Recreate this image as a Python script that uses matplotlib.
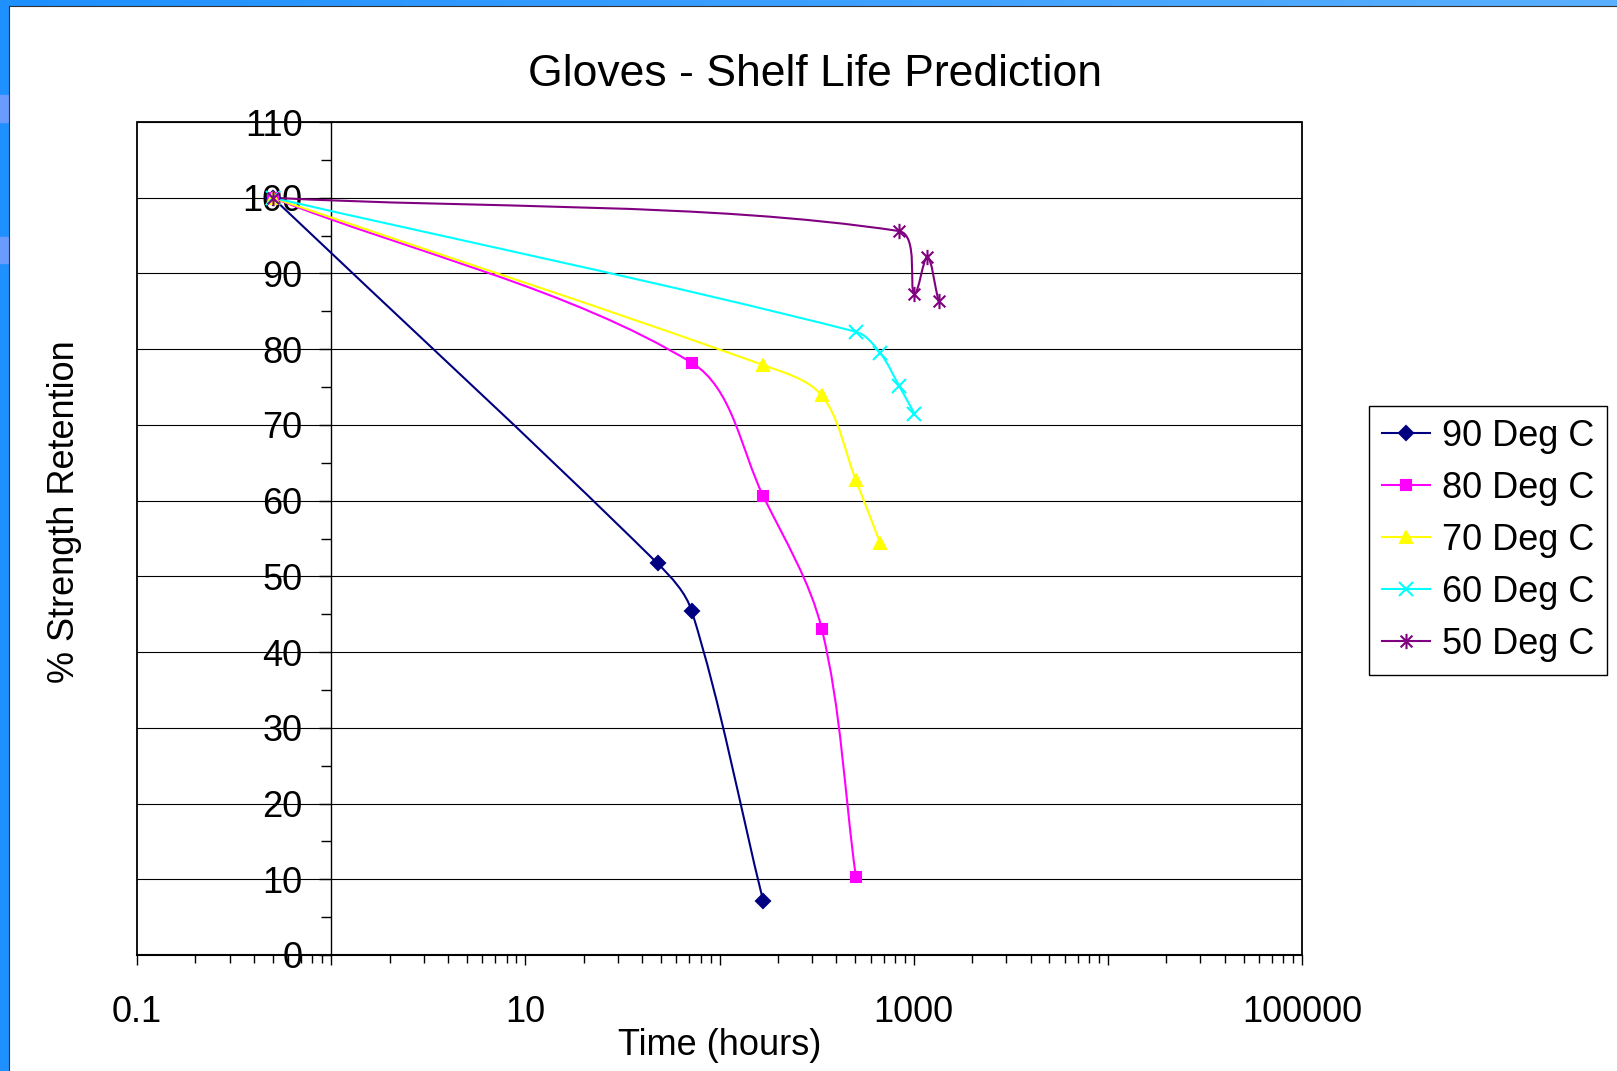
import numpy as np
import matplotlib
matplotlib.use("Agg")
import matplotlib.pyplot as plt
from matplotlib.path import Path
from matplotlib.patches import PathPatch, Rectangle
from matplotlib.lines import Line2D
from matplotlib.colors import LinearSegmentedColormap
from matplotlib.ticker import LogLocator, MultipleLocator, NullFormatter

plt.rcParams["font.family"] = ["Liberation Sans", "DejaVu Sans"]

# Dữ liệu (giờ, % độ bền còn lại)
series_names = ["90 Deg C", "80 Deg C", "70 Deg C", "60 Deg C", "50 Deg C"]
hours_90 = [0.5, 48, 72, 168]
ret_90 = [100, 51.7, 45.4, 7.1]
hours_80 = [0.5, 72, 168, 336, 504]
ret_80 = [100, 78.2, 60.6, 43.1, 10.3]
hours_70 = [0.5, 168, 336, 504, 672]
ret_70 = [100, 77.9, 73.9, 62.7, 54.4]
hours_60 = [0.5, 504, 672, 840, 1008]
ret_60 = [100, 82.3, 79.5, 75.2, 71.5]
hours_50 = [0.5, 840, 1008, 1176, 1344]
ret_50 = [100, 95.6, 87.3, 92.2, 86.3]

x_tick_values = [0.1, 1, 10, 100, 1000, 10000, 100000]
x_tick_labels = ["0.1", "", "10", "", "1000", "", "100000"]
y_tick_values = list(range(0, 111, 10))

colors = ["#000080", "#FF00FF", "#FFFF00", "#00FFFF", "#800080"]

# Marker kiểu "star" của Excel: dấu x cộng một vạch đứng
star = Path([(-1, -1), (1, 1), (-1, 1), (1, -1), (0, -1.3), (0, 1.3)],
            [Path.MOVETO, Path.LINETO] * 3)
markers = ["D", "s", "^", "x", star]
msizes = [7.5, 7.5, 9, 10.5, 11]

W, H = 1617, 1071


def smooth_path(ax, xs, ys):
    """Đường cong Bezier kiểu 'smoothed line' của Excel (tính trong toạ độ màn hình)."""
    pts = ax.transData.transform(np.column_stack([xs, ys]))
    n = len(pts)
    verts = [pts[0]]
    codes = [Path.MOVETO]
    for i in range(n - 1):
        p0 = pts[max(i - 1, 0)]
        p1 = pts[i]
        p2 = pts[i + 1]
        p3 = pts[min(i + 2, n - 1)]
        l01 = np.hypot(*(p1 - p0))
        l12 = np.hypot(*(p2 - p1))
        l23 = np.hypot(*(p3 - p2))
        c1 = p1 + (p2 - p0) * l12 / (l01 + l12) / 3
        c2 = p2 - (p3 - p1) * l12 / (l12 + l23) / 3
        verts += [c1, c2, p2]
        codes += [Path.CURVE4] * 3
    verts = ax.transData.inverted().transform(np.array(verts))
    return Path(verts, codes)


fig = plt.figure(figsize=(W / 100, H / 100), dpi=100)

# Viền xanh của slide
fig.patches.append(Rectangle((0, 0), 8 / W, 1, transform=fig.transFigure,
                             color="#1E90FF", zorder=0))
for y0, y1 in [(95, 122), (237, 263)]:
    fig.patches.append(Rectangle((0, 1 - y1 / H), 8 / W, (y1 - y0) / H,
                                 transform=fig.transFigure, color="#6A9BFF", zorder=0))
top = fig.add_axes([0, 1 - 6 / H, 1, 6 / H])
top.imshow(np.linspace(0, 1, 256)[None, :], aspect="auto",
           cmap=LinearSegmentedColormap.from_list("edge", ["#1E90FF", "#5AB0FF"]))
top.axis("off")
fig.add_artist(Line2D([8.5 / W, 8.5 / W], [0, 1 - 5.5 / H], color="#333333", lw=0.8))
fig.add_artist(Line2D([8.5 / W, 1], [1 - 5.5 / H, 1 - 5.5 / H], color="#333333", lw=0.8))

ax = fig.add_axes([137 / W, 1 - 955 / H, (1302 - 137) / W, (955 - 122) / H])
ax.set_xscale("log")
ax.set_xlim(0.1, 100000)
ax.set_ylim(0, 110)

all_hours = [hours_90, hours_80, hours_70, hours_60, hours_50]
all_ret = [ret_90, ret_80, ret_70, ret_60, ret_50]

handles = []
for hrs, ret, c, m, ms, name in zip(all_hours, all_ret, colors, markers, msizes, series_names):
    ax.add_patch(PathPatch(smooth_path(ax, hrs, ret), fill=False, edgecolor=c,
                           lw=1.5, zorder=3))
    ax.plot(hrs, ret, linestyle="none", marker=m, markersize=ms, color=c,
            markeredgewidth=1.5, zorder=4, clip_on=False)
    handles.append(Line2D([], [], color=c, lw=1.5, marker=m, markersize=ms,
                          markeredgewidth=1.5, label=name))

# Khung vùng vẽ + trục y đặt tại x = 1
ax.add_patch(Rectangle((0, 0), 1, 1, transform=ax.transAxes, fill=False,
                       lw=1.3, edgecolor="black", zorder=5, clip_on=False))
ax.spines["top"].set_visible(False)
ax.spines["right"].set_visible(False)
ax.spines["bottom"].set_linewidth(1.5)
ax.spines["left"].set_position(("data", 1))
ax.spines["left"].set_linewidth(1.0)

ax.set_yticks(y_tick_values)
ax.yaxis.set_minor_locator(MultipleLocator(5))
ax.set_xticks(x_tick_values, x_tick_labels)
ax.xaxis.set_minor_locator(LogLocator(base=10, subs=range(2, 10), numticks=20))
ax.xaxis.set_minor_formatter(NullFormatter())

ax.tick_params(axis="y", which="major", direction="out", length=8.5, width=1,
               labelsize=26, pad=12)
ax.tick_params(axis="y", which="minor", direction="out", length=7, width=1)
ax.tick_params(axis="x", which="major", direction="out", length=7, width=1,
               labelsize=26, pad=22)
ax.tick_params(axis="x", which="minor", direction="out", length=5.5, width=1)

ax.yaxis.grid(True, which="major", color="black", lw=0.8)
ax.set_axisbelow(True)

fig.text(814.5 / W, 1 - 86 / H, "Gloves - Shelf Life Prediction",
         ha="center", va="baseline", fontsize=32)
fig.text(719.5 / W, 1 - 1055 / H, "Time (hours)", ha="center", va="baseline", fontsize=26)
fig.text(64 / W, 1 - 512 / H, "% Strength Retention", rotation=90,
         ha="center", va="center", fontsize=26)

leg = fig.legend(handles=handles, loc="upper left",
                 bbox_to_anchor=(1369 / W, 1 - 406 / H), bbox_transform=fig.transFigure,
                 frameon=True, fancybox=False, edgecolor="black", framealpha=1,
                 fontsize=26, handlelength=1.33, handletextpad=0.33,
                 labelspacing=0.47, borderpad=0.36, borderaxespad=0)
leg.get_frame().set_linewidth(1.0)

fig.savefig("out.png", dpi=100)
